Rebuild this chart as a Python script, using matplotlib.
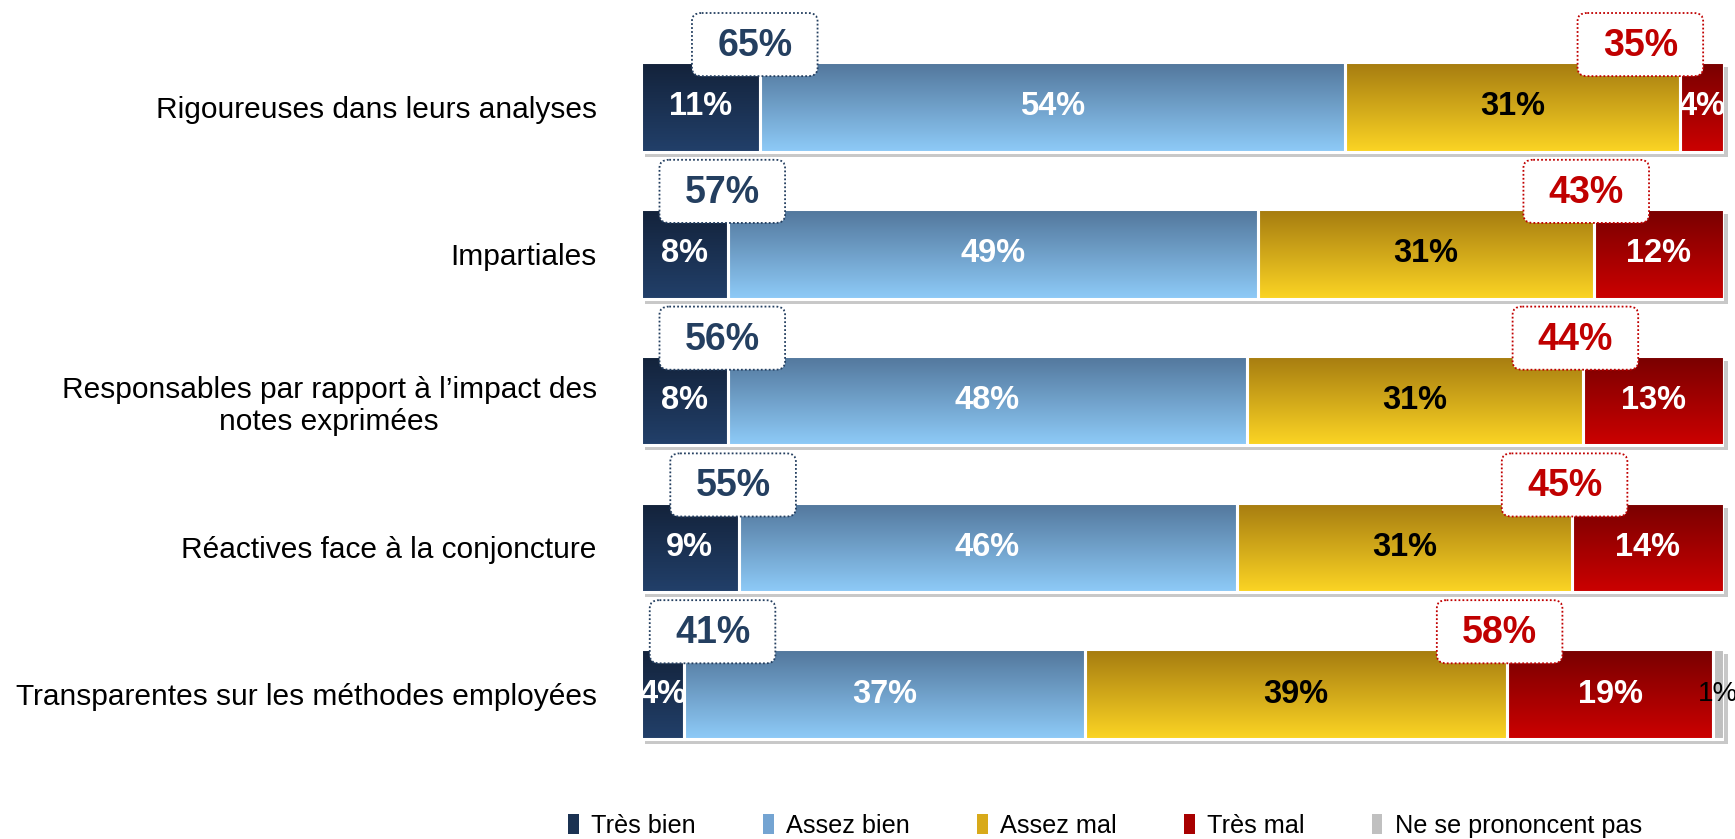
import numpy as np
import matplotlib
matplotlib.use("Agg")
import matplotlib.pyplot as plt
from matplotlib.colors import LinearSegmentedColormap
from matplotlib.patches import FancyBboxPatch, Patch
import matplotlib.transforms as mtransforms

# donnees
categories = ["Rigoureuses dans leurs analyses",
              "Impartiales",
              "Responsables par rapport à l\u2019impact des\nnotes exprimées",
              "Réactives face à la conjoncture",
              "Transparentes sur les méthodes employées"]
series_names = ["Très bien", "Assez bien", "Assez mal", "Très mal", "Ne se prononcent pas"]
tres_bien = [11, 8, 8, 9, 4]
assez_bien = [54, 49, 48, 46, 37]
assez_mal = [31, 31, 31, 31, 39]
tres_mal = [4, 12, 13, 14, 19]
nsp = [0, 0, 0, 0, 1]
total_bien = [65, 57, 56, 55, 41]
total_mal = [35, 43, 44, 45, 58]

# couleurs (haut, bas) des degrades
grad_colors = [("#13223A", "#22406A"),
               ("#52769B", "#8ECBF8"),
               ("#A57B10", "#FCD524"),
               ("#780000", "#CC0000"),
               ("#C0C0C0", "#C0C0C0")]
legend_colors = ["#1B3252", "#74A4D2", "#D8AA1A", "#A80000", "#C0C0C0"]
text_colors = ["white", "white", "black", "white", "black"]
text_weights = ["bold", "bold", "bold", "bold", "normal"]
blue_txt = "#243F60"
red_txt = "#C00000"

plt.rcParams['font.family'] = ['Liberation Sans', 'DejaVu Sans']

fig = plt.figure(figsize=(17.35, 8.39), dpi=100)
ax = fig.add_axes([0.3695, 0.0852, 0.6240, 0.8748])

series = [tres_bien, assez_bien, assez_mal, tres_mal, nsp]
y = np.arange(len(categories))
h = 0.61
grad = np.linspace(0, 1, 256).reshape(-1, 1)

# ombre des barres
totals = np.sum(series, axis=0)
shadow_t = mtransforms.offset_copy(ax.transData, fig=fig, x=4, y=-5, units='dots')
ax.barh(y, totals, height=h, color="#C8C8C8", transform=shadow_t, zorder=0, clip_on=False)

left = np.zeros(len(categories))
for s, vals in enumerate(series):
    cmap = LinearSegmentedColormap.from_list("g%d" % s, list(grad_colors[s]))
    for i, v in enumerate(vals):
        if v == 0:
            continue
        ax.imshow(grad, cmap=cmap, aspect='auto', interpolation='bicubic',
                  extent=[left[i], left[i] + v, y[i] + h / 2, y[i] - h / 2], zorder=1)
        ax.text(left[i] + v / 2, y[i], "%d%%" % v, ha='center', va='center',
                fontsize=23.5 if s < 4 else 20, fontweight=text_weights[s],
                color=text_colors[s], zorder=4)
    ax.barh(y, vals, left=left, height=h, facecolor='none', edgecolor='white',
            linewidth=2.2, zorder=2)
    left = left + np.array(vals)

# encadres des totaux
bw, bh = 11.6, 0.43
for i in range(len(categories)):
    cy = y[i] - 0.425
    cx_b = max(tres_bien[i] - 0.5, 6.6)
    cx_r = min(tres_bien[i] + assez_bien[i] + assez_mal[i] - 0.7, 92.3)
    for cx, val, col in [(cx_b, total_bien[i], blue_txt), (cx_r, total_mal[i], red_txt)]:
        box = FancyBboxPatch((cx - bw / 2, cy - bh / 2), bw, bh,
                             boxstyle="round,pad=0,rounding_size=0.9",
                             mutation_aspect=0.06, facecolor='white',
                             edgecolor=col, linestyle=(0, (1, 1.2)), linewidth=1.3,
                             zorder=5, clip_on=False)
        ax.add_patch(box)
        ax.text(cx, cy + 0.01, "%d%%" % val, ha='center', va='center', fontsize=27,
                fontweight='bold', color=col, zorder=6)

ax.set_xlim(0, 100)
ax.set_ylim(len(categories) - 0.5, -0.5)
ax.set_yticks(y)
ax.set_yticklabels(categories, fontsize=21.5, multialignment='center')
ax.tick_params(axis='y', length=0, pad=32)
ax.set_xticks([])
for sp in ax.spines.values():
    sp.set_visible(False)

handles = [Patch(facecolor=c, edgecolor='none') for c in legend_colors]
fig.legend(handles, series_names, loc='center', bbox_to_anchor=(0.637, 0.0155), ncol=5,
           frameon=False, fontsize=18.2, handlelength=0.42, handleheight=0.85,
           handletextpad=0.5, columnspacing=2.65)

fig.savefig("out.png", dpi=100)
